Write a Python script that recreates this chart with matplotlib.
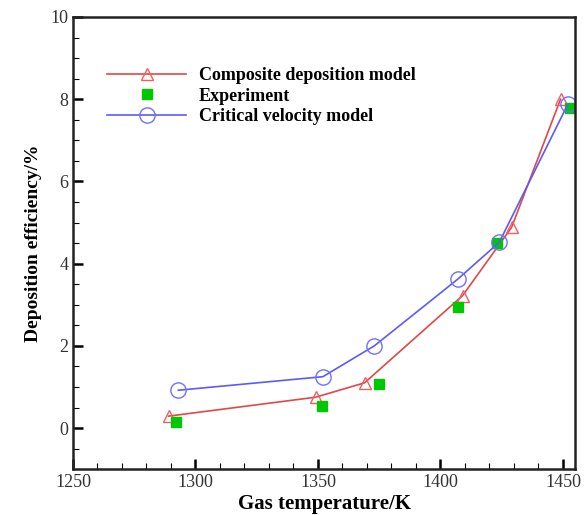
import matplotlib
matplotlib.use("Agg")
import matplotlib.pyplot as plt
from matplotlib.ticker import MultipleLocator

# composite deposition model
comp_t = [1289, 1349, 1369, 1409, 1429, 1449]
comp_eff = [0.29, 0.75, 1.1, 3.22, 4.88, 8.0]

# experiment
exp_t = [1292, 1351.5, 1375, 1407, 1423, 1453]
exp_eff = [0.15, 0.54, 1.07, 2.94, 4.51, 7.78]

# critical velocity model
crit_t = [1293, 1352, 1373, 1407, 1424, 1452]
crit_eff = [0.92, 1.25, 2.0, 3.62, 4.52, 7.88]

plt.rcParams['font.family'] = ['Liberation Serif', 'DejaVu Serif']

fig = plt.figure(figsize=(5.84, 5.15), dpi=100)
ax = fig.add_axes([0.125, 0.089, 0.86, 0.878])

ax.plot(comp_t, comp_eff, color='#e04848', lw=1.2, marker='^', ms=9,
        mfc='none', mec='#ee6060', mew=1.0, label='Composite deposition model')
ax.plot(exp_t, exp_eff, ls='none', marker='s', ms=7, color='#00c800',
        label='Experiment')
ax.plot(crit_t, crit_eff, color='#5a5aff', lw=1.2, marker='o', ms=11,
        mfc='none', mec='#7070ff', mew=1.0, label='Critical velocity model')

ax.set_xlim(1250, 1455)
ax.set_ylim(-1, 10)
ax.xaxis.set_major_locator(MultipleLocator(50))
ax.xaxis.set_minor_locator(MultipleLocator(10))
ax.yaxis.set_major_locator(MultipleLocator(2))
ax.yaxis.set_minor_locator(MultipleLocator(0.5))
ax.tick_params(which='both', direction='in', top=False, right=False,
               labelsize=13, labelcolor='#333333')
ax.tick_params(which='major', length=7, width=1.8)
ax.tick_params(which='minor', length=4, width=0.8)
for s in ax.spines.values():
    s.set_linewidth(1.8)
    s.set_color('#222222')

ax.set_xlabel('Gas temperature/K', fontsize=15, fontweight='bold', labelpad=2)
ax.set_ylabel('Deposition efficiency/%', fontsize=14, fontweight='bold', labelpad=6)

leg = ax.legend(loc='upper left', bbox_to_anchor=(0.035, 0.925), frameon=False,
                prop={'weight': 'bold', 'size': 13}, handlelength=4.4,
                handletextpad=0.7, labelspacing=0.2)

fig.savefig('out.png', dpi=100)
